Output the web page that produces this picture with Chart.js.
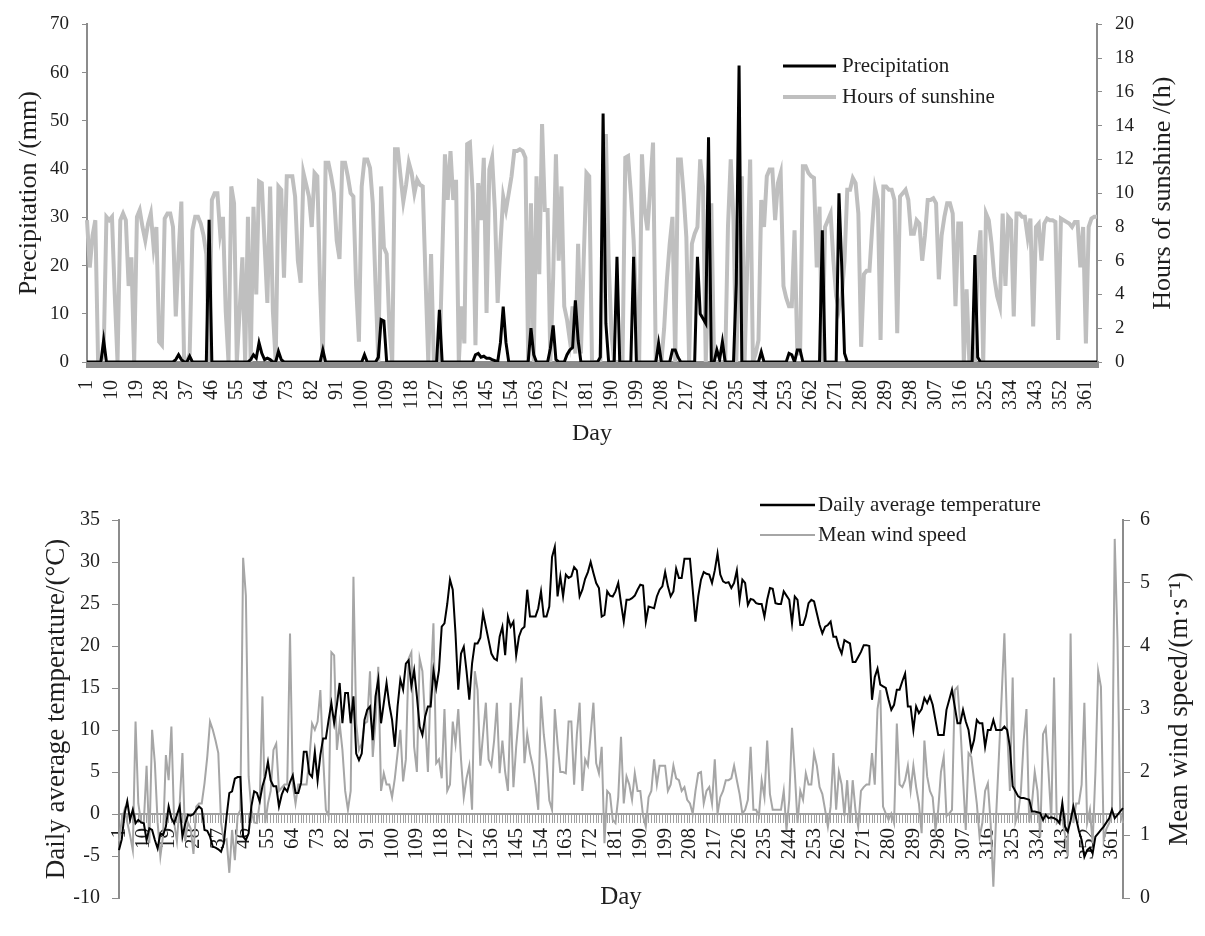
<!DOCTYPE html>
<html><head><meta charset="utf-8">
<script src="https://cdn.jsdelivr.net/npm/chart.js@4/dist/chart.umd.min.js"></script>
<style>
html,body{margin:0;padding:0;background:#fff;}
#c1{position:absolute;left:0;top:0;}
#c2{position:absolute;left:0;top:470px;}
</style></head><body>
<canvas id="c1" width="1205" height="449"></canvas>
<canvas id="c2" width="1205" height="466"></canvas>
<script>
const days = [];
for (let d = 1; d <= 365; d++) days.push(String(d));

const precipitation = [
0,0,0,0,0,0,4.5,0,0,0,
0,0,0,0,0,0,0,0,0,0,
0,0,0,0,0,0,0,0,0,0,
0,0,0.5,1.5,0.5,0,0,1.2,0,0,
0,0,0,0,29.5,0,0,0,0,0,
0,0,0,0,0,0,0,0,0,0.5,
1.5,0.8,4.0,1.8,0.5,0.8,0.5,0,0,2.2,
0.5,0,0,0,0,0,0,0,0,0,
0,0,0,0,0,2.5,0,0,0,0,
0,0,0,0,0,0,0,0,0,0,
1.5,0,0,0,0,1.0,8.8,8.5,0,0,
0,0,0,0,0,0,0,0,0,0,
0,0,0,0,0,0,0,10.8,0,0,
0,0,0,0,0,0,0,0,0,0,
1.5,1.8,1.0,1.2,0.8,0.8,0.5,0.3,0,4.0,
11.5,4.0,0,0,0,0,0,0,0,0,
7.0,1.5,0,0,0,0,0,2.8,7.6,0.5,
0,0,0,1.5,2.5,3.0,12.8,4.5,0,0,
0,0,0,0,0,1.0,51.5,8.0,0,0,
0,21.8,0,0,0,0,0,21.8,0,0,
0,0,0,0,0,0,3.9,0,0,0,
0,2.5,2.5,1.0,0,0,0,0,0,0,
21.8,10.0,9.0,8.0,46.6,0,0,2.5,0.5,4.2,
0,0,0,0,16.3,61.5,0,0,0,0,
0,0,0,2.1,0,0,0,0,0,0,
0,0,0,1.8,1.5,0,2.5,2.5,0,0,
0,0,0,0,0,27.3,0,0,0,0,
0,35.0,20.0,1.8,0,0,0,0,0,0,
0,0,0,0,0,0,0,0,0,0,
0,0,0,0,0,0,0,0,0,0,
0,0,0,0,0,0,0,0,0,0,
0,0,0,0,0,0,0,0,0,0,
22.2,1.0,0,0,0,0,0,0,0,0,
0,0,0,0,0,0,0,0,0,0,
0,0,0,0,0,0,0,0,0,0,
0,0,0,0,0,0,0,0,0,0,
0,0,0,0,0
];

const sunshine = [
8.4,5.6,7.5,8.4,0,0,0.5,8.6,8.4,8.6,
4,0,8.4,8.8,8.4,4.5,6.2,0,8.6,9.0,
8.0,7.2,8.2,8.8,6.8,8.0,1.2,1.0,8.5,8.8,
8.8,8.0,2.7,6.4,9.5,0,0,0.5,7.8,8.6,
8.6,8.2,7.5,6.4,0,9.6,10.0,10.0,7.6,8.6,
3,0,10.4,9.4,0,3,6.2,0,8.6,0,
9.2,4.0,10.7,10.6,7,3.5,10.4,3,0,10.4,
10.2,5.0,11.0,11.0,11.0,9.8,6,4.7,11.2,10.5,
9.8,8.0,11.2,11.0,4.5,0,11.8,11.8,11.0,10.0,
7.2,6.1,11.8,11.8,11.0,10.0,9.8,4.5,1.2,10.4,
12.0,12.0,11.5,9.4,4.5,0,10.4,6.8,6.4,2,
0,12.6,12.6,11.0,9.5,10.5,11.8,11.2,10.0,10.8,
10.5,10.4,5,0,6.4,0,0,0,6,12.3,
9.6,12.5,9.6,10.8,0,3.3,1.1,12.9,13.0,10,
1.0,10.6,8.4,12.1,2.9,11.4,12.1,9,3.5,7,
9.8,9.0,10,11.0,12.5,12.5,12.6,12.5,12.1,0,
9.4,0,11.0,5.2,14.1,9.0,9.0,0,5,12.3,
6.0,10.4,3.3,2.5,1.3,3.3,0.5,7.0,0.5,6,
11.2,11.0,0,0,0,0,7,13.5,6,1.7,
0,0,0,0,12.1,12.2,10,7.2,3,0,
12.3,9,7.8,10.4,13.0,0,0,0,2,4.9,
7,8.6,0,12.0,12.0,10,7.4,0,7.0,7.6,
8,12.0,10.4,0,5,9.4,0,0,0,0,
0,8,12.0,8.4,0,6,11.0,0,6,12.0,
0,0.5,1.3,9.6,8,11.0,11.4,11.4,8.4,10.6,
11.2,4.5,3.8,3.3,3.3,7.8,0.5,0.5,11.6,11.6,
11.2,11.0,10.9,5.6,9.2,0,8.0,8.4,8.8,6.0,
3.9,3.1,3.9,6,10.2,10.2,10.9,10.6,8.8,0.9,
5.2,5.4,5.4,8,10.3,9.6,1.3,10.4,10.4,10.2,
10.2,9.6,1.7,9.8,10.0,10.2,9.6,7.6,7.6,8.4,
8.2,6.0,7.5,9.6,9.6,9.7,9.4,4.9,7.5,8.6,
9.4,9.4,8.8,3.3,8.2,8.2,0,4.3,0,0,
0,6.0,7.8,0,8.8,8.4,7.0,5.0,3.9,3.3,
8.8,4.5,8.6,8.4,2.7,8.8,8.8,8.6,8.6,7.4,
8.5,2.1,8.0,8.2,6.0,8.2,8.5,8.4,8.4,8.3,
1.3,8.5,8.4,8.3,8.2,8.0,8.3,8.3,5.6,8.0,
1.1,8.0,8.5,8.6,8.6
];

const temperature = [
-4.3,-3,0,1.5,-0.7,0.5,-1.1,-0.7,-1,-1.1,
-3.1,-1.7,-1.9,-3.1,-4.1,-2.3,-2.5,-1.5,0.9,-0.5,
-1.1,-0.1,0.9,-2.7,-1.2,-0.1,-0.2,0,0.5,0.9,
0.6,-1.9,-2.0,-2.7,-3.9,-4.0,-4.2,-4.5,-3.5,-0.3,
2.5,2.7,4.2,4.4,4.4,-2.7,-3.1,-2.3,0.9,2.7,
2.5,1.5,3.3,4.4,6.2,4.0,3.3,3.3,0.9,2.3,
3.1,2.7,3.8,4.6,2.5,2.5,3.7,7.4,7.4,4.8,
4.4,7.4,4.0,7.0,9.0,9.0,11.2,13.2,10.8,13.0,
15.6,10.8,14.4,14.4,10.8,14.0,7.2,6.4,7.2,11.2,
12.4,12.8,8.8,14.0,16.0,10.8,13.2,15.6,13.0,11.2,
8.0,12.8,16.0,14.8,17.9,18.3,15.2,17.1,14.0,10.4,
9.4,11.6,12.8,12.8,17.1,15.0,17.1,22.3,22.7,25.0,
27.9,26.7,21.5,14.8,19.1,19.9,17,13.6,17.9,20.3,
20.3,21,23.9,22.3,20.7,19.1,18.5,18.3,21.1,22.3,
18.9,23.5,22.3,22.9,18.9,21.1,22,22.3,26.7,23.5,
23.5,23.5,24.5,26.5,23.5,23.5,24.7,30.6,31.8,25.9,
28.3,25.9,28.5,28.1,28.3,29.4,29.0,25.9,26.7,28.0,
28.8,30.0,28.7,27.5,26.9,23.5,23.7,26.5,26.0,25.9,
26.5,27.5,25.1,22.9,25.5,25.5,25.7,26.0,26.7,27.3,
27.2,22.9,24.7,24.6,24.5,25.9,26.7,27.1,28.8,27.1,
25.9,26.5,29.2,28.1,28.1,30.4,30.4,30.4,26.7,22.9,
25.9,27.9,28.8,28.6,28.5,27.5,29.0,31.0,28.5,27.7,
27.5,27.6,26.9,27.5,29.0,25.5,27.9,27.5,24.9,25.6,
25.5,25.1,25.0,25.0,23.5,25.5,26.9,26.8,25.1,25.0,
25.0,26.5,26.0,25.5,22.7,25.9,25.5,22.5,22.5,23.5,
25.1,25.5,25.3,23.9,22.5,21.5,22.3,22.5,22.9,21.1,
21.1,19.9,19.1,20.7,20.5,20.3,18.1,18.1,18.7,19.3,
20.1,20.1,20.0,13.6,16.3,17.3,15.4,15.2,15.0,13.6,
12.4,13.0,14.8,14.8,15.8,16.7,12.8,12.8,10.0,12.8,
12.0,12.5,13.8,13.2,14.0,13.0,11.2,9.4,9.4,9.4,
12.4,13.6,14.8,12.8,10.8,10.8,12.4,11.0,10.0,7.6,
8.8,11.2,10.8,10.8,8.0,10.0,10.0,11.2,10.0,10.0,
10.0,10.4,10.0,8.0,3.3,2.7,2.1,1.9,1.9,1.8,
1.7,0.3,0.3,0.2,0.1,-0.7,-0.1,-0.5,-0.4,-0.5,
-0.7,-1.1,1.3,-1.5,-2.1,-0.8,0.9,-0.5,-2.0,-3.1,
-5.1,-4.3,-4.0,-4.7,-2.7,-2.3,-1.9,-1.5,-1.0,-0.5,
0.5,-0.5,-0.1,0.3,0.7
];

const windSpeed = [
0.9,1.24,1.4,1.2,1.0,0.76,2.8,1.5,1.2,1.2,
2.1,0.87,2.67,2.14,1.2,0.66,1.0,2.27,1.87,2.72,
1.19,0.9,1.5,2.3,0.9,1.2,1.1,0.7,1.45,1.5,
1.5,1.82,2.24,2.8,2.67,2.5,2.3,1.2,0.9,0.93,
0.4,1.08,0.6,1.3,1.4,5.4,4.8,1.93,1.4,1.2,
1.19,1.5,3.2,1.19,1.5,1.7,2.35,2.45,1.7,1.75,
1.8,1.8,4.2,1.8,1.5,1.8,1.8,1.8,1.8,2.2,
2.77,2.67,2.8,3.3,2.24,1.4,1.3,3.9,3.85,2.35,
2.77,2.35,1.7,1.4,1.7,5.1,2.77,2.35,2.45,2.77,
2.8,3.6,2.24,2.8,3.67,1.7,1.98,1.8,1.8,1.6,
1.9,2.3,2.67,1.85,2.2,3.8,3.9,2.4,2.0,3.8,
3.6,2.8,2.0,3.4,4.36,2.14,2.2,1.9,3.0,1.7,
1.8,2.8,2.45,3.0,2.2,1.6,1.9,2.1,1.4,3.6,
3.3,2.1,2.6,3.1,2.2,2.1,2.5,3.1,1.98,2.5,
2.0,1.7,3.1,1.76,2.4,2.9,3.5,2.14,2.6,2.3,
2.1,1.8,1.4,3.2,2.6,2.2,1.55,1.4,3.0,2.45,
2.0,2.0,1.98,2.8,2.8,1.8,2.6,3.1,1.7,2.2,
2.1,2.6,3.1,2.14,1.98,2.4,0.87,1.7,1.65,1.24,
1.19,1.6,2.56,1.5,1.93,1.8,1.56,1.98,1.7,1.7,
1.3,1.13,1.6,1.7,2.2,1.8,2.1,2.1,2.1,1.7,
1.8,2.1,1.9,1.87,1.7,1.76,1.56,1.5,1.34,1.7,
1.98,2.0,1.5,1.7,1.76,1.5,2.2,1.34,1.6,1.7,
1.87,1.87,1.9,2.1,1.87,1.65,1.34,1.4,1.56,2.4,
1.4,1.4,1.3,1.87,1.6,2.5,1.65,1.4,1.4,1.4,
1.4,1.7,1.08,1.56,2.7,2.0,1.19,1.7,1.56,1.98,
1.8,1.8,2.3,2.1,1.76,1.65,1.4,1.13,1.45,2.3,
1.4,2.0,1.8,1.3,1.87,1.19,1.87,1.4,1.13,1.7,
1.76,1.8,1.8,2.3,1.8,3.0,3.3,1.45,1.34,1.24,
1.34,1.19,2.77,1.8,1.76,1.87,2.1,1.7,2.1,1.76,
1.5,1.03,2.5,1.93,1.7,1.6,1.08,1.4,2.0,2.24,
1.3,1.34,1.4,3.3,3.35,2.77,1.9,1.08,2.3,2.24,
1.87,1.5,0.97,1.19,1.7,1.82,1.2,0.18,1.3,2.24,
3.2,4.2,2.67,1.7,3.5,1.2,1.34,1.7,2.5,3.0,
1.2,1.5,2.0,1.7,0.97,2.6,2.7,2.0,1.24,3.5,
1.19,1.24,1.24,1.0,0.66,4.2,1.19,1.5,1.5,1.8,
3.1,1.19,1.4,0.87,2.0,3.6,3.35,0.92,1.1,1.19,
1.34,5.7,4.1,1.34,1.19
];

const FONT = "'Liberation Serif', 'Times New Roman', serif";
const TXT = '#1e1e1e';
const AXIS = '#8c8c8c';

const insideLegend = {
  id: 'insideLegend',
  afterDraw(chart, args, o) {
    const ctx = chart.ctx;
    ctx.save();
    ctx.font = o.size + 'px ' + FONT;
    ctx.textBaseline = 'middle';
    ctx.textAlign = 'left';
    ctx.fillStyle = TXT;
    chart.data.datasets.forEach((ds, i) => {
      const y = o.y + i * o.gap;
      ctx.strokeStyle = ds.borderColor;
      ctx.lineWidth = o.widths[i];
      ctx.beginPath(); ctx.moveTo(o.x0, y); ctx.lineTo(o.x1, y); ctx.stroke();
      ctx.fillText(ds.label, o.tx, y);
    });
    ctx.restore();
  }
};

const extraTitles = {
  id: 'extraTitles',
  afterDraw(chart, args, o) {
    const ctx = chart.ctx;
    const ca = chart.chartArea;
    ctx.save();
    ctx.fillStyle = TXT;
    ctx.textAlign = 'center';
    ctx.textBaseline = 'middle';
    (o.items || []).forEach(it => {
      ctx.font = it.size + 'px ' + FONT;
      ctx.save();
      if (it.vertical) {
        ctx.translate(it.x, (ca.top + ca.bottom) / 2);
        ctx.rotate(-Math.PI / 2);
        ctx.fillText(it.text, 0, 0);
      } else {
        ctx.fillText(it.text, (ca.left + ca.right) / 2, it.y);
      }
      ctx.restore();
    });
    ctx.restore();
  }
};

function dayTick(v, i) { return (i % 9 === 0) ? days[i] : ''; }

new Chart(document.getElementById('c1'), {
  type: 'line',
  data: {
    labels: days,
    datasets: [
      { label: 'Precipitation', data: precipitation, borderColor: '#000000', borderWidth: 3,
        yAxisID: 'y', pointRadius: 0, tension: 0, fill: false },
      { label: 'Hours of sunshine', data: sunshine, borderColor: '#bfbfbf', borderWidth: 4,
        yAxisID: 'y1', pointRadius: 0, tension: 0, fill: false }
    ]
  },
  options: {
    responsive: false, animation: false, devicePixelRatio: 1,
    layout: { padding: { top: 24, left: 0, right: 0, bottom: 0 } },
    plugins: {
      legend: { display: false }, tooltip: { enabled: false },
      insideLegend: { x0: 783, x1: 836, tx: 842, y: 66, gap: 31, size: 21, widths: [3, 4] },
      extraTitles: { items: [ { text: 'Hours of sunshine /(h)', vertical: true, x: 1163, size: 26 } ] }
    },
    scales: {
      x: {
        type: 'category', offset: false,
        grid: { drawOnChartArea: false, drawTicks: true, tickLength: 6, color: AXIS, lineWidth: 3 },
        border: { display: true, color: AXIS, width: 2 },
        ticks: { autoSkip: false, minRotation: 90, maxRotation: 90, padding: 12, color: TXT,
                 font: { family: FONT, size: 20 }, callback: dayTick },
        title: { display: true, text: 'Day', color: TXT, font: { family: FONT, size: 24 },
                 padding: { top: 0, bottom: 1 } },
        afterFit: s => { s.height = 87; }
      },
      y: {
        position: 'left', min: 0, max: 70,
        ticks: { stepSize: 10, padding: 13, color: TXT, font: { family: FONT, size: 19 } },
        grid: { drawOnChartArea: false, tickLength: 5, color: AXIS },
        border: { display: true, color: AXIS, width: 2 },
        title: { display: true, text: 'Precipitation /(mm)', color: TXT, font: { family: FONT, size: 26 },
                 padding: { top: 14, bottom: 0 } },
        afterFit: s => { s.width = 87; }
      },
      y1: {
        position: 'right', min: 0, max: 20,
        ticks: { stepSize: 2, padding: 13, color: TXT, font: { family: FONT, size: 19 } },
        grid: { drawOnChartArea: false, tickLength: 5, color: AXIS },
        border: { display: true, color: AXIS, width: 2 },
        afterFit: s => { s.width = 108; }
      }
    }
  },
  plugins: [insideLegend, extraTitles]
});

new Chart(document.getElementById('c2'), {
  type: 'line',
  data: {
    labels: days,
    datasets: [
      { label: 'Daily average temperature', data: temperature, borderColor: '#000000', borderWidth: 2,
        yAxisID: 'y', pointRadius: 0, tension: 0, fill: false },
      { label: 'Mean wind speed', data: windSpeed, borderColor: '#a6a6a6', borderWidth: 2,
        yAxisID: 'y1', pointRadius: 0, tension: 0, fill: false }
    ]
  },
  options: {
    responsive: false, animation: false, devicePixelRatio: 1,
    layout: { padding: { top: 50, left: 0, right: 0, bottom: 38 } },
    plugins: {
      legend: { display: false }, tooltip: { enabled: false },
      insideLegend: { x0: 760, x1: 815, tx: 818, y: 35, gap: 30, size: 21, widths: [2.5, 2] },
      extraTitles: { items: [
        { text: 'Mean wind speed/(m\u00b7s\u207b\u00b9)', vertical: true, x: 1180, size: 27 },
        { text: 'Day', vertical: false, y: 427, size: 25 }
      ] }
    },
    scales: {
      x: {
        type: 'category', offset: false, position: { y: 0 },
        grid: { drawOnChartArea: false, drawTicks: true, tickLength: 8, color: '#a0a0a0', lineWidth: 1 },
        border: { display: true, color: '#a0a0a0', width: 2 },
        ticks: { autoSkip: false, minRotation: 90, maxRotation: 90, padding: 6, color: TXT,
                 font: { family: FONT, size: 21 }, callback: dayTick },
        title: { display: false }
      },
      y: {
        position: 'left', min: -10, max: 35,
        ticks: { stepSize: 5, padding: 12, color: TXT, font: { family: FONT, size: 20 } },
        grid: { drawOnChartArea: false, tickLength: 7, color: AXIS },
        border: { display: true, color: AXIS, width: 2 },
        title: { display: true, text: 'Daily average temperature/(\u00b0C)', color: TXT,
                 font: { family: FONT, size: 27 }, padding: { top: 41, bottom: 0 } },
        afterFit: s => { s.width = 119; }
      },
      y1: {
        position: 'right', min: 0, max: 6,
        ticks: { stepSize: 1, padding: 10, color: TXT, font: { family: FONT, size: 20 } },
        grid: { drawOnChartArea: false, tickLength: 7, color: AXIS },
        border: { display: true, color: AXIS, width: 2 },
        afterFit: s => { s.width = 82; }
      }
    }
  },
  plugins: [insideLegend, extraTitles]
});

[precipitation, sunshine, temperature, windSpeed].forEach((a, i) => {
  if (a.length !== 365) throw new Error('series ' + i + ' has ' + a.length + ' values');
});
</script>
</body></html>
